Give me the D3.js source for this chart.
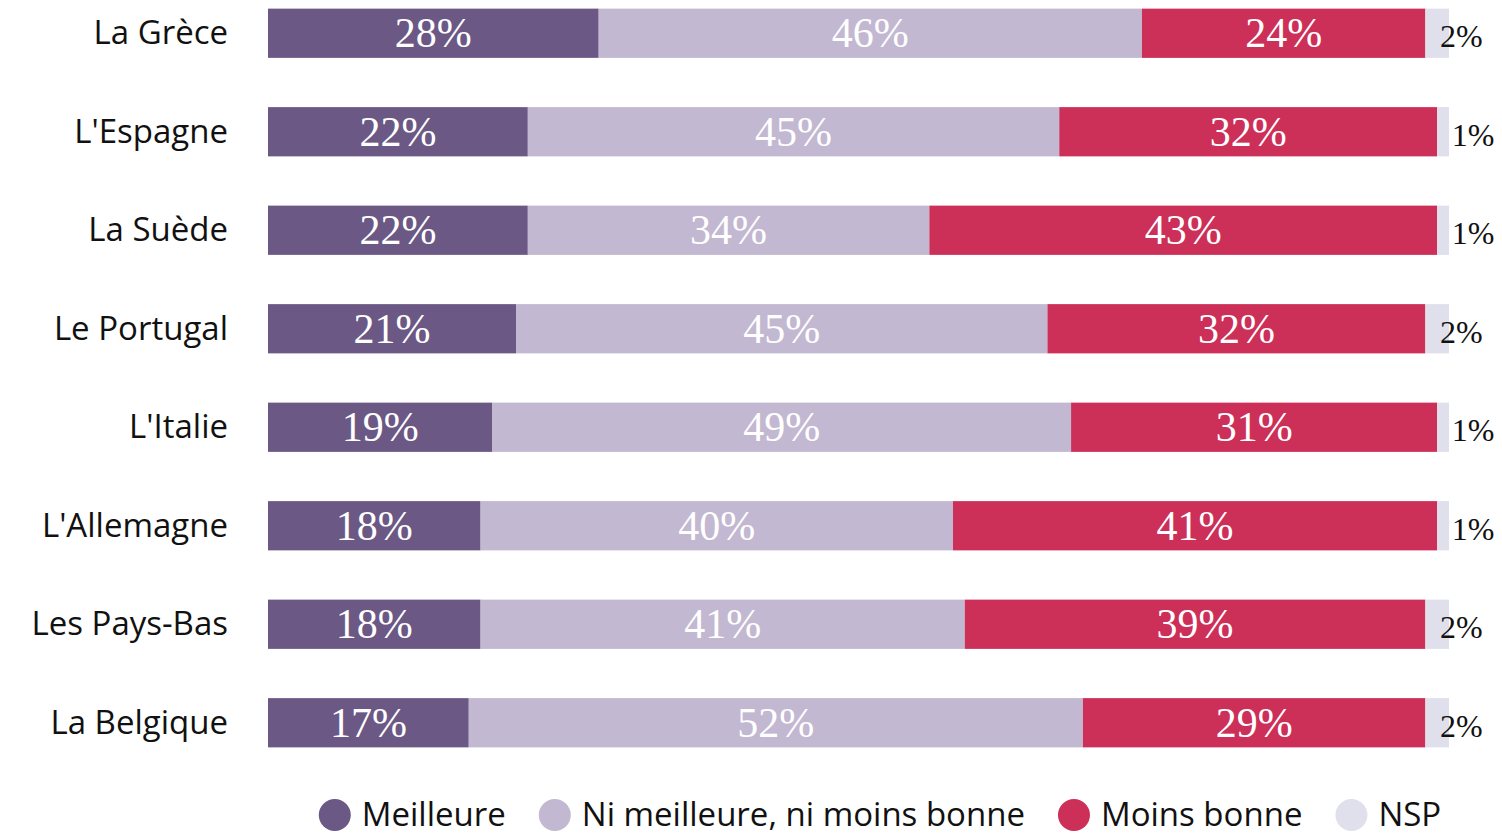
<!DOCTYPE html>
<html>
<head>
<meta charset="utf-8">
<script src="https://cdn.jsdelivr.net/npm/d3@7"></script>
<style>
  html, body { margin: 0; padding: 0; background: #fff; }
  svg { display: block; }
</style>
</head>
<body>
<div id="chart"></div>
<script>
// Countries, top to bottom
const countries = ['La Grèce', "L'Espagne", 'La Suède', 'Le Portugal', "L'Italie", "L'Allemagne", 'Les Pays-Bas', 'La Belgique'];

// Series values (%), same order as countries
const meilleure = [28, 22, 22, 21, 19, 18, 18, 17];
const niNi      = [46, 45, 34, 45, 49, 40, 41, 52];
const moins     = [24, 32, 43, 32, 31, 41, 39, 29];
const nsp       = [2, 1, 1, 2, 1, 1, 2, 2];

const seriesNames = ['Meilleure', 'Ni meilleure, ni moins bonne', 'Moins bonne', 'NSP'];
const seriesColors = ['#6b5884', '#c3b8d1', '#cc2f58', '#dfe0ec'];

const width = 1502, height = 836;
const sansFont = '"Open Sans", "Noto Sans", sans-serif';
const serifFont = '"Liberation Serif", "DejaVu Serif", serif';

const svg = d3.select('#chart').append('svg')
  .attr('width', width)
  .attr('height', height);

const x = d3.scaleLinear().domain([0, 100]).range([268, 1449]);
const y = d3.scaleBand().domain(countries).range([-16, 772]).paddingInner(0.5).paddingOuter(0.25);

const rows = countries.map((c, i) => ({ country: c, values: [meilleure[i], niNi[i], moins[i], nsp[i]] }));

// stack each row into segments
const segments = [];
rows.forEach(r => {
  let acc = 0;
  r.values.forEach((v, k) => {
    segments.push({ country: r.country, k, v, x0: acc, x1: acc + v });
    acc += v;
  });
});

svg.append('g')
  .selectAll('rect')
  .data(segments)
  .join('rect')
  .attr('x', d => x(d.x0))
  .attr('y', d => y(d.country))
  .attr('width', d => x(d.x1) - x(d.x0))
  .attr('height', y.bandwidth())
  .attr('fill', d => seriesColors[d.k]);

// value labels: centred inside for the first three, NSP sits just past the bar
svg.append('g')
  .selectAll('text')
  .data(segments)
  .join('text')
  .attr('x', d => d.k === 3 ? x(d.x0) + 36 : (x(d.x0) + x(d.x1)) / 2)
  .attr('y', d => y(d.country) + y.bandwidth() / 2 + 14)
  .attr('text-anchor', 'middle')
  .attr('font-family', serifFont)
  .attr('font-size', d => d.k === 3 ? 32 : 42)
  .attr('fill', d => d.k === 3 ? '#111' : '#fff')
  .text(d => d.v + '%');

// country labels
svg.append('g')
  .selectAll('text')
  .data(countries)
  .join('text')
  .attr('x', 228)
  .attr('y', d => y(d) + y.bandwidth() / 2 + 11)
  .attr('text-anchor', 'end')
  .attr('font-family', sansFont)
  .attr('font-size', 33)
  .attr('fill', '#111')
  .text(d => d);

// legend, laid out by measured text width, centred where the reference sits
const legend = svg.append('g');
const items = legend.selectAll('g')
  .data(seriesNames)
  .join('g');
items.append('circle')
  .attr('r', 16)
  .attr('cy', 815)
  .attr('fill', (d, i) => seriesColors[i]);
items.append('text')
  .attr('y', 826)
  .attr('font-family', sansFont)
  .attr('font-size', 33)
  .attr('fill', '#111')
  .text(d => d);

let cx = 0;
const pos = [];
items.each(function() {
  const w = d3.select(this).select('text').node().getComputedTextLength();
  pos.push(cx);
  cx += 27 + w + 49;
});
const total = cx - 49 + 16; // from left edge of first circle
const start = 880 - total / 2 + 16;
items.attr('transform', (d, i) => `translate(${start + pos[i]},0)`);
items.select('text').attr('x', 27);
</script>
</body>
</html>
